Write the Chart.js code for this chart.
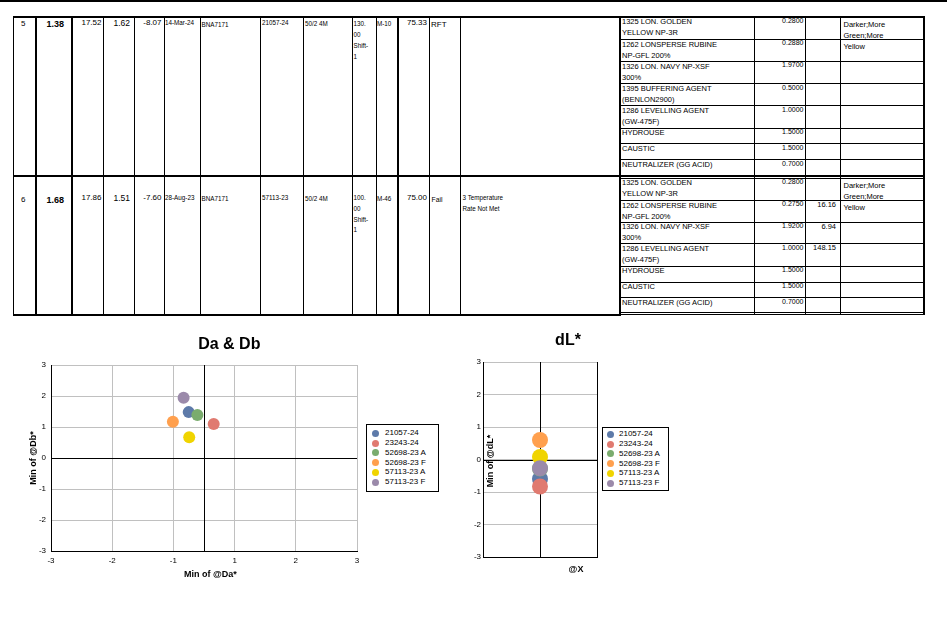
<!DOCTYPE html>
<html><head><meta charset="utf-8">
<script src="https://cdn.jsdelivr.net/npm/chart.js@4.4.1/dist/chart.umd.min.js"></script>
<style>
html,body{margin:0;padding:0;background:#fff;}
body{width:947px;height:641px;position:relative;overflow:hidden;font-family:"Liberation Sans",Arial,sans-serif;color:#000;}
.l{position:absolute;background:#000;}
.t{position:absolute;white-space:pre;}
canvas{position:absolute;}
.lg{position:absolute;border:1px solid #000;background:#fff;box-sizing:border-box;z-index:5;}
.lg .m{position:absolute;width:7px;height:7px;border-radius:50%;}
.lg .n{position:absolute;font-size:8px;line-height:10px;white-space:pre;}
</style></head><body>
<canvas id="c1" width="460" height="275" style="left:0;top:325px;width:460px;height:275px"></canvas>
<canvas id="c2" width="280" height="275" style="left:440px;top:325px;width:280px;height:275px"></canvas>
<script>
// ---------- chart data ----------
const seriesNames = ['21057-24','23243-24','52698-23 A','52698-23 F','57113-23 A','57113-23 F'];
const seriesColors = ['#5d7aa9','#e07a70','#7aac6e','#ffa04e','#f0d400','#9b8aaa'];
const daValues = [-0.30, 0.19, -0.13, -0.61, -0.29, -0.40];
const dbValues = [1.48, 1.10, 1.39, 1.17, 0.67, 1.94];
const dlValues = [-0.60, -0.83, -0.28, 0.60, 0.08, -0.27];
const dlXValues = [0, 0, 0, 0, 0, 0];
const daTickValues = [-3, -1.8, -0.6, 0.6, 1.8, 3];
const daTickLabels = ['-3', '-2', '-1', '1', '2', '3'];

// ---------- table ----------
const root = document.body;
function L(x, y, w, h) {
  const d = document.createElement('div'); d.className = 'l';
  d.style.cssText = `left:${x}px;top:${y}px;width:${w}px;height:${h}px`;
  root.appendChild(d);
}
function T(x, cy, txt, size, opt = {}) {
  const lh = opt.lh || size * 1.2;
  txt.split('\n').forEach((s, i) => {
    const d = document.createElement('div'); d.className = 't'; d.textContent = s;
    d.style.fontSize = size + 'px'; d.style.lineHeight = (size * 1.2) + 'px';
    d.style.top = (cy + i * lh - size * 0.6) + 'px';
    if (opt.b) d.style.fontWeight = 'bold';
    if (opt.r) { d.style.left = (x - 200) + 'px'; d.style.width = '200px'; d.style.textAlign = 'right'; }
    else d.style.left = x + 'px';
    root.appendChild(d);
  });
}
// outer/horizontal lines
L(0, 0, 947, 2);
L(13, 16, 911, 2);
L(13, 175, 911, 2);
L(13, 314, 607, 2);
// vertical lines main part
[[13,1],[35,2],[71,2],[103,1],[134,1],[164,1],[200,1],[260,1],[303,1],[352,1],[376,1],[397,2],[429,1],[460,1],[619,2]]
  .forEach(([x, w]) => L(x, 16, w, 300));
[[754,1],[805,1],[840,1],[923,2]].forEach(([x, w]) => L(x, 16, w, 299));
// sub table horizontal lines
[39, 61, 83, 105, 127.5, 143, 159, 177.5, 200, 221.5, 243, 265.5, 281.5, 297, 311.5].forEach(y => L(620, Math.round(y), 304, 1));
L(620, 314, 304, 1);

// row 5
T(21, 24, '5', 8); T(64, 24, '1.38', 9, {b:1, r:1}); T(101.5, 22.5, '17.52', 8, {r:1});
T(130, 23, '1.62', 8.5, {r:1}); T(161.5, 22.5, '-8.07', 8, {r:1}); T(165, 22.5, '14-Mar-24', 6.3);
T(201.5, 25, 'BNA7171', 6.3); T(262, 23, '21057-24', 6.3); T(305, 24, '50/2 4M', 6.3);
T(353.5, 23.3, '130.\n00\nShift-\n1', 6.3, {lh:11}); T(377, 23.5, 'M-10', 6.3);
T(427, 22.5, '75.33', 8, {r:1}); T(431, 25, 'RFT', 8);
// row 6
T(21, 200, '6', 8); T(64, 200, '1.68', 9, {b:1, r:1}); T(101.5, 197.7, '17.86', 8, {r:1});
T(130, 197.7, '1.51', 8.5, {r:1}); T(161.5, 197.7, '-7.60', 8, {r:1}); T(165, 197.7, '28-Aug-23', 6.3);
T(201.5, 199, 'BNA7171', 6.3); T(262, 197.7, '57113-23', 6.3); T(305, 199, '50/2 4M', 6.3);
T(353.5, 197.7, '100.\n00\nShift-\n1', 6.3, {lh:10.8}); T(377, 198.3, 'M-46', 6.3);
T(427, 197.7, '75.00', 8, {r:1}); T(431.5, 200, 'Fail', 6.8);
T(462.5, 197.7, '3 Temperature\nRate Not Met', 6.3, {lh:11.3});

const sub5 = [
  ['1325 LON. GOLDEN\nYELLOW NP-3R','0.2800',''],
  ['1262 LONSPERSE RUBINE\nNP-GFL 200%','0.2880',''],
  ['1326 LON. NAVY NP-XSF\n300%','1.9700',''],
  ['1395 BUFFERING AGENT\n(BENLON2900)','0.5000',''],
  ['1286 LEVELLING AGENT\n(GW-475F)','1.0000',''],
  ['HYDROUSE','1.5000',''],
  ['CAUSTIC','1.5000',''],
  ['NEUTRALIZER (GG ACID)','0.7000','']];
const tops5 = [16.7, 39, 61, 83.3, 105.3, 127.7, 143.3, 159.3];
const sub6 = [
  ['1325 LON. GOLDEN\nYELLOW NP-3R','0.2800',''],
  ['1262 LONSPERSE RUBINE\nNP-GFL 200%','0.2750','16.16'],
  ['1326 LON. NAVY NP-XSF\n300%','1.9200','6.94'],
  ['1286 LEVELLING AGENT\n(GW-475F)','1.0000','148.15'],
  ['HYDROUSE','1.5000',''],
  ['CAUSTIC','1.5000',''],
  ['NEUTRALIZER (GG ACID)','0.7000','']];
const tops6 = [177.7, 200, 221.7, 243.3, 265.7, 281.7, 297.3];
function subRows(rows, tops) {
  rows.forEach((r, i) => {
    T(622, tops[i] + 5.2, r[0], 7.5, {lh:11});
    T(803.5, tops[i] + 4.5, r[1], 7, {r:1});
    if (r[2]) T(836, tops[i] + 4.5, r[2], 7.5, {r:1});
  });
}
subRows(sub5, tops5); subRows(sub6, tops6);
T(843.5, 24, 'Darker;More\nGreen;More\nYellow', 7.5, {lh:11});
T(843.5, 185, 'Darker;More\nGreen;More\nYellow', 7.5, {lh:11.2});

// ---------- legends ----------
function legend(x, y, w, h, firstY, step, mx, tx) {
  const box = document.createElement('div'); box.className = 'lg';
  box.style.cssText = `left:${x}px;top:${y}px;width:${w}px;height:${h}px`;
  seriesNames.forEach((n, i) => {
    const cy = firstY + i * step;
    const m = document.createElement('div'); m.className = 'm';
    m.style.cssText = `left:${mx - 3.5}px;top:${cy - 3.5}px;background:${seriesColors[i]}`;
    const t = document.createElement('div'); t.className = 'n'; t.textContent = n;
    t.style.cssText = `left:${tx}px;top:${cy - 5}px`;
    box.appendChild(m); box.appendChild(t);
  });
  root.appendChild(box);
}
legend(366, 424, 73, 68, 8.3, 9.75, 8, 18);
legend(602, 427, 67, 64, 6.3, 9.75, 7, 16);

// ---------- plugins ----------
const axisLines = {
  id: 'axisLines',
  beforeDatasetsDraw(chart, args, opts) {
    const {ctx, chartArea: a, scales: {x, y}} = chart;
    ctx.save(); ctx.strokeStyle = '#000'; ctx.lineWidth = 1;
    const px = Math.round(x.getPixelForValue(0)) + 0.5;
    const py = Math.round(y.getPixelForValue(0)) + 0.5;
    ctx.beginPath();
    ctx.moveTo(px, a.top); ctx.lineTo(px, a.bottom);
    ctx.moveTo(a.left, py); ctx.lineTo(a.right, py);
    if (opts.rightBorder) { const rx = Math.round(a.right) + 0.5; ctx.moveTo(rx, a.top); ctx.lineTo(rx, a.bottom); }
    ctx.stroke(); ctx.restore();
  }
};
const texts = {
  id: 'texts',
  afterDraw(chart, args, opts) {
    const ctx = chart.ctx;
    (opts.items || []).forEach(it => {
      ctx.save(); ctx.font = it.font; ctx.fillStyle = '#000';
      ctx.textAlign = 'center'; ctx.textBaseline = 'middle';
      ctx.translate(it.x, it.y); if (it.rot) ctx.rotate(-Math.PI / 2);
      ctx.fillText(it.text, 0, 0); ctx.restore();
    });
  }
};
const FF = '"Liberation Sans", Arial, sans-serif';
const tickFont = {family: '"Liberation Sans", Arial, sans-serif', size: 8};
const GRID = '#c0c0c0';

// ---------- chart 1: Da & Db ----------
new Chart(document.getElementById('c1'), {
  type: 'scatter',
  data: {
    datasets: seriesNames.map((n, i) => ({
      label: n, data: [{x: daValues[i], y: dbValues[i]}],
      backgroundColor: seriesColors[i], borderWidth: 0, pointRadius: 6, pointHoverRadius: 6,
      order: seriesNames.length - i
    }))
  },
  options: {
    responsive: false, animation: false, events: [],
    layout: {padding: {left: 0, top: 40, right: 103, bottom: 0}},
    plugins: {
      legend: {display: false}, tooltip: {enabled: false}, title: {display: false},
      axisLines: {},
      texts: {items: [
        {text: 'Da & Db', x: 229.3, y: 20, font: 'bold 16px ' + FF},
        {text: 'Min of @Da*', x: 210.3, y: 250, font: 'bold 9px ' + FF},
        {text: 'Min of @Db*', x: 34, y: 133, font: 'bold 9px ' + FF, rot: true}
      ]}
    },
    scales: {
      x: {
        type: 'linear', min: -3, max: 3,
        afterBuildTicks: s => { s.ticks = daTickValues.map(v => ({value: v})); },
        afterFit: s => { s.height = 49; },
        ticks: {font: tickFont, color: '#000', padding: 5, maxRotation: 0, autoSkip: false,
          callback: (v, i) => daTickLabels[i]},
        grid: {color: GRID, drawTicks: false},
        border: {color: '#000', width: 1}
      },
      y: {
        type: 'linear', min: -3, max: 3,
        afterFit: s => { s.width = 51; },
        ticks: {stepSize: 1, font: tickFont, color: '#000', padding: 5},
        grid: {color: GRID, drawTicks: false},
        border: {color: '#000', width: 1}
      }
    }
  },
  plugins: [axisLines, texts]
});

// ---------- chart 2: dL* ----------
new Chart(document.getElementById('c2'), {
  type: 'scatter',
  data: {
    datasets: seriesNames.map((n, i) => ({
      label: n, data: [{x: dlXValues[i], y: dlValues[i]}],
      backgroundColor: seriesColors[i], borderWidth: 0, pointRadius: 8, pointHoverRadius: 8,
      order: seriesNames.length - i
    }))
  },
  options: {
    responsive: false, animation: false, events: [],
    layout: {padding: {left: 0, top: 37, right: 123, bottom: 0}},
    plugins: {
      legend: {display: false}, tooltip: {enabled: false}, title: {display: false},
      axisLines: {rightBorder: true},
      texts: {items: [
        {text: 'dL*', x: 128, y: 16, font: 'bold 16px ' + FF},
        {text: 'Min of @dL*', x: 50.7, y: 136, font: 'bold 9px ' + FF, rot: true},
        {text: '@X', x: 136, y: 245, font: 'bold 9px ' + FF}
      ]}
    },
    scales: {
      x: {
        type: 'linear', min: -1, max: 1,
        afterFit: s => { s.height = 43; },
        ticks: {display: false},
        grid: {display: false},
        border: {color: '#000', width: 1}
      },
      y: {
        type: 'linear', min: -3, max: 3,
        afterFit: s => { s.width = 43; },
        ticks: {stepSize: 1, font: tickFont, color: '#000', padding: 2},
        grid: {color: GRID, drawTicks: false},
        border: {color: '#000', width: 1}
      }
    }
  },
  plugins: [axisLines, texts]
});
</script>
</body></html>
